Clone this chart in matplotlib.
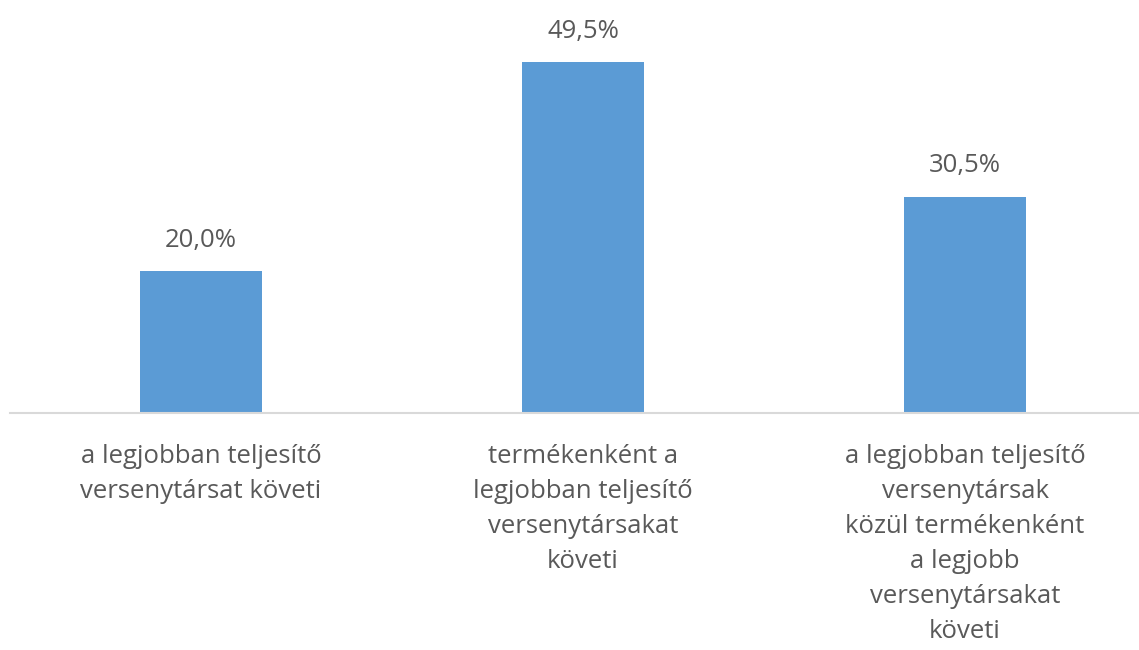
import matplotlib
matplotlib.use("Agg")
import matplotlib.pyplot as plt

categories = [
    "a legjobban teljesítő\nversenytársat követi",
    "termékenként a\nlegjobban teljesítő\nversenytársakat\nköveti",
    "a legjobban teljesítő\nversenytársak\nközül termékenként\na legjobb\nversenytársakat\nköveti",
]
values = [20.0, 49.5, 30.5]
value_labels = ["20,0%", "49,5%", "30,5%"]

W, H = 1139, 650
fig = plt.figure(figsize=(W / 100, H / 100), dpi=100)
ax = fig.add_axes([10 / W, 237 / H, 1146 / W, 390 / H])

color_text = "#595959"
font = "Open Sans"
fs = 18.5

x = list(range(len(values)))
ax.bar(x, values, width=0.317, color="#5b9bd5", zorder=2)
ax.set_xlim(-0.5, 2.5)
ax.set_ylim(0, 55)

for s in ["top", "right", "left"]:
    ax.spines[s].set_visible(False)
ax.spines["bottom"].set_color("#d9d9d9")
ax.spines["bottom"].set_linewidth(1.5)
ax.set_yticks([])
ax.set_xticks(x)
ax.set_xticklabels(categories, fontsize=fs, color=color_text, family=font,
                   linespacing=1.52)
ax.tick_params(axis="x", length=0, pad=22.5)

for xi, v, lab in zip(x, values, value_labels):
    ax.annotate(lab, (xi, v), xytext=(0, 17.5), textcoords="offset points",
                ha="center", va="baseline", fontsize=fs, color=color_text,
                family=font)

fig.savefig("out.png", dpi=100)
